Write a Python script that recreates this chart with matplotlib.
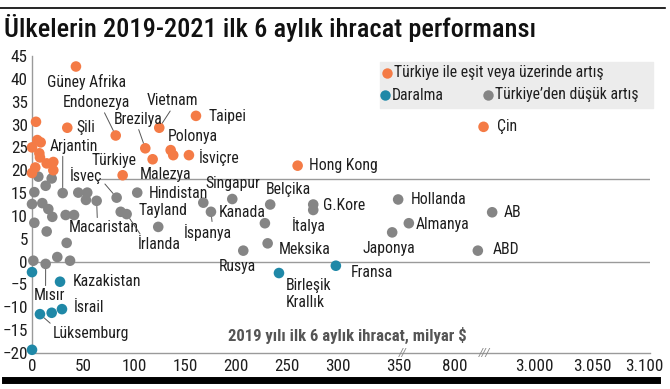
import numpy as np
import matplotlib.pyplot as plt
from matplotlib import font_manager

# pick a narrow font if one is installed
FONT = 'Roboto'
for cand in ['Roboto Condensed', 'DejaVu Sans Condensed', 'Liberation Sans Narrow']:
    try:
        font_manager.findfont(cand, fallback_to_default=False)
        FONT = cand
        break
    except ValueError:
        pass
plt.rcParams['font.family'] = [FONT, 'DejaVu Sans']
NARROW = FONT != 'Roboto'

# --- data: x = 2019 H1 exports (bn $), y = 2019-2021 change (%) ---
up_names = ['Güney Afrika', '', 'Şili', 'Endonezya', '', '', '', '', '', '', '', '', '', '',
            'Türkiye', 'Vietnam', 'Taipei', 'Brezilya', 'Polonya', '', 'İsviçre', 'Malezya',
            'Hong Kong', 'Çin']
up_x = [43.1, 3.9, 34.6, 82.1, 0, 5.2, 8.5, 7.2, 7.8, 20.9, 14.4, 3.2, 0, 20.9,
        88.9, 124.8, 160.8, 111.1, 136, 138.5, 153.9, 118.3, 260.5, 1589]
up_y = [42.7, 30.6, 29.3, 27.6, 25.0, 26.6, 26.1, 23.7, 22.8, 21.8, 21.5, 20.6, 19.4, 20.0,
        18.9, 29.3, 31.9, 24.8, 24.4, 23.3, 23.3, 22.4, 21.0, 29.5]

down_names = ['', 'Kazakistan', 'Lüksemburg', '', 'İsrail', '', 'Birleşik\nKrallık', 'Fransa']
down_x = [0, 27.5, 7.8, 19.3, 29.4, 0, 242.2, 298]
down_y = [-2.3, -4.4, -11.5, -11.2, -10.4, -19.3, -2.5, -0.9]

low_names = ['', '', '', '', 'Arjantin', '', '', '', 'Macaristan', 'İsveç', '', '', '', '', '',
             '', '', '', '', '', 'İrlanda', 'Hindistan', 'Tayland', 'Kanada', 'İspanya',
             'Singapur', 'Belçika', '', 'Meksika', 'Rusya', 'G.Kore', 'İtalya', 'Mısır', '',
             '', '', 'Hollanda', 'Almanya', 'Japonya', 'AB', 'ABD']
low_x = [6.2, 19.3, 13.4, 2.3, 30.1, 45.4, 54.2, 52.9, 63.4, 83.0, 0, 10.1, 16.0, 19.9, 33.0,
         41.2, 2.3, 14.4, 34.0, 87.0, 92.8, 103.2, 123.8, 168.0, 175.5,
         196.4, 233.6, 228.4, 231.1, 207.2, 275.8, 275.8, 13.4, 1.3,
         24.8, 37.3, 349.4, 430, 344.5, 1826, 1432]
low_y = [18.6, 18.2, 16.6, 15.2, 15.0, 15.1, 15.1, 13.5, 13.3, 14.0, 12.6, 12.8, 11.5, 9.8, 10.2,
         10.2, 8.5, 6.6, 4.1, 10.9, 10.4, 15.1, 7.6, 12.9, 10.9,
         13.7, 12.5, 8.4, 4.0, 2.4, 12.5, 11.3, -0.5, 0.2,
         1.0, 0.2, 13.6, 8.4, 6.4, 10.8, 2.4]

turkiye_level = 18.1
x_ticks = [0, 50, 100, 150, 200, 250, 300, 350, 800, 3000, 3050, 3100]
x_ticklabels = ['0', '50', '100', '150', '200', '250', '300', '350', '800',
                '3.000', '3.050', '3.100']
y_ticks = list(range(-20, 50, 5))

ORANGE = '#F47B46'
BLUE = '#1F88A7'
GRAY = '#858585'
TXT = '#1e1e1e'

LBL = 11.3 if NARROW else 9.8
TICK = 12.3 if NARROW else 10.8
TITLE = 19 if NARROW else 16

# broken x axis: piecewise linear scale
XK = [-100, 0, 300, 350, 800, 3000, 3050, 3100, 3200]
PK = [-102, 0, 306, 367, 423, 503, 561, 613, 717]


def fwd(x):
    return np.interp(x, XK, PK)


def inv(p):
    return np.interp(p, PK, XK)


# label offsets in pixels (text left edge, text vertical centre) and leader attach point
labels = {
    'Güney Afrika': (-29, -15, None), 'Endonezya': (-53, 33, (0.6, 0)),
    'Şili': (9, 0, None), 'Arjantin': (-13, 47, (0.27, 0)),
    'Vietnam': (-13, 27, (0.5, 0)), 'Brezilya': (-32, 29, (0.5, 0)),
    'Taipei': (13, -1, None), 'Polonya': (-3, 14, None), 'İsviçre': (10, -2, None),
    'Türkiye': (-31, 15, None), 'Malezya': (-13, -15, None),
    'İsveç': (-47, 22, (1, 0.2)), 'Hindistan': (12, -1, None),
    'Singapur': (-27, 16, None), 'Kanada': (15, -10, None),
    'İspanya': (-27, -21, (0.59, 1)), 'Tayland': (-20, 16, None),
    'İrlanda': (11, -30, (0.1, 1)), 'Macaristan': (-28, -27, (0.41, 1)),
    'Mısır': (-12, -32, (0.38, 1)), 'Kazakistan': (13, 0, None), 'İsrail': (12, 2, None),
    'Lüksemburg': (13, -19, (0, 1)), 'Rusya': (-25, -16, None), 'Meksika': (11, -6, None),
    'Belçika': (-4, 15, None), 'G.Kore': (10, -1, None), 'İtalya': (-21, -16, None),
    'Hong Kong': (11, 0, None), 'Birleşik\nKrallık': (7, -21, None), 'Fransa': (15, -7, None),
    'Japonya': (-30, -16, None), 'Hollanda': (13, 0, None), 'Almanya': (7, -1, None),
    'AB': (12, 0, None), 'ABD': (15, 1, None), 'Çin': (13, 0, None),
}

fig = plt.figure(figsize=(6.7, 3.89), dpi=100)
ax = fig.add_axes([32 / 670, 1 - 353 / 389, 618 / 670, 297 / 389])
ax.set_xscale('function', functions=(fwd, inv))
ax.set_xlim(0, 3105)
ax.set_ylim(-20, 45)

ax.axhline(0, color='#9a9a9a', lw=1, zorder=1)
ax.hlines(turkiye_level, 67, 3105, color='#9a9a9a', lw=1, zorder=1)

for xs, ys, names, c in [(low_x, low_y, low_names, GRAY), (up_x, up_y, up_names, ORANGE),
                         (down_x, down_y, down_names, BLUE)]:
    ax.scatter(xs, ys, s=58, color=c, edgecolors='none', zorder=3, clip_on=False)
    for x, y, n in zip(xs, ys, names):
        if not n:
            continue
        dx, dy, rel = labels[n]
        kw = {}
        if rel is not None:
            kw['arrowprops'] = dict(arrowstyle='-', color='#555555', lw=0.7,
                                    relpos=rel, shrinkA=0, shrinkB=4)
        ax.annotate(n, (x, y), xytext=(dx, dy), textcoords='offset pixels',
                    ha='left', va='center', fontsize=LBL, color=TXT,
                    linespacing=1.15, zorder=4, **kw)

for s in ['top', 'right']:
    ax.spines[s].set_visible(False)
for s in ['left', 'bottom']:
    ax.spines[s].set_color('#9a9a9a')
    ax.spines[s].set_linewidth(1)
ax.set_xticks(x_ticks)
ax.set_xticklabels(x_ticklabels)
ax.set_yticks(y_ticks)
ax.tick_params(length=0, labelsize=TICK, colors=TXT)
ax.tick_params(axis='x', pad=4)
ax.tick_params(axis='y', pad=3)
ax.xaxis.set_minor_locator(plt.NullLocator())

# axis break marks
for bx, mark in [(380, '//'), (1620, '///')]:
    ax.text(bx, -20, mark, ha='center', va='center', fontsize=8, color='#8a8a8a',
            family='DejaVu Sans', style='italic')

ax.text(0.51, 0.058, '2019 yılı ilk 6 aylık ihracat, milyar $', transform=ax.transAxes,
        ha='center', va='center', fontsize=12, fontweight='bold', color='#555555')

# title and rules
fig.text(4 / 670, 1 - 28 / 389, 'Ülkelerin 2019-2021 ilk 6 aylık ihracat performansı',
         ha='left', va='center', fontsize=TITLE, fontweight='medium', color='#111111')
fig.add_artist(plt.Line2D([0, 665 / 670], [1 - 7.5 / 389] * 2, color='black', lw=1.2))
fig.add_artist(plt.Line2D([5 / 670, 657 / 670], [1 - 380 / 389] * 2, color='black', lw=5))


def P(px, py):
    return px / 670, 1 - py / 389


# legend box (drawn above the axes)
fig.add_artist(plt.Rectangle(P(380, 108), 273 / 670, 46 / 389, color='#ececec', zorder=1))
for (px, py), c, t in [((387, 73), ORANGE, 'Türkiye ile eşit veya üzerinde artış'),
                       ((385, 95), BLUE, 'Daralma'),
                       ((488, 95), GRAY, 'Türkiye’den düşük artış')]:
    fig.add_artist(plt.Line2D([P(px, py)[0]], [P(px, py)[1]], marker='o', ms=7.5,
                              color=c, mec='none', zorder=2))
    fig.text(*P(px + 7, py), t, ha='left', va='center', fontsize=LBL, color=TXT, zorder=3)

fig.savefig('out.png', dpi=100)
